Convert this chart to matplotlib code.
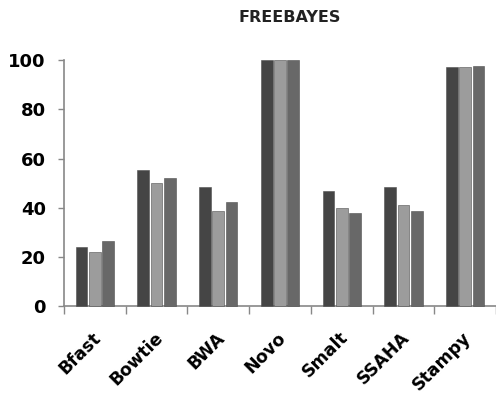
import numpy as np
import matplotlib.pyplot as plt
from matplotlib.transforms import ScaledTranslation

# data
tools = ["Bfast", "Bowtie", "BWA", "Novo", "Smalt", "SSAHA", "Stampy"]
series_a = [24.2, 55.3, 48.4, 100, 46.8, 48.4, 97.4]
series_b = [22.1, 50.0, 38.9, 100, 39.8, 41.1, 97.3]
series_c = [26.5, 52.2, 42.3, 100, 37.8, 38.9, 97.8]

colors = ["#454545", "#9c9c9c", "#686868"]

fig = plt.figure(figsize=(4.96, 3.98), dpi=100)
ax = fig.add_axes([0.129, 0.23, 0.871, 0.619])

x = np.arange(len(tools))
w = 0.19
step = 0.215
for k, (vals, c) in enumerate(zip([series_a, series_b, series_c], colors)):
    ax.bar(x + (k - 1) * step, vals, width=w, color=c, edgecolor="#505050",
           linewidth=0.4, clip_on=False, zorder=3)

ax.set_xlim(-0.5, len(tools) - 0.5)
ax.set_ylim(0, 100)
ax.set_yticks([0, 20, 40, 60, 80, 100])

# x ticks sit between categories, names drawn as rotated texts
ax.set_xticks(np.arange(-0.5, len(tools), 1.0))
ax.set_xticklabels([])
ax.tick_params(axis="x", length=6, width=1, color="#888888", direction="out")
shift = ax.get_xaxis_transform() + ScaledTranslation(-0.03, -0.22, fig.dpi_scale_trans)
for xi, name in zip(x, tools):
    ax.text(xi, 0, name, transform=shift, rotation=45, ha="right", va="top",
            rotation_mode="anchor", fontsize=12.5, fontweight="bold",
            family="DejaVu Sans")

ax.tick_params(axis="y", length=4, width=1, color="#888888", pad=9,
               labelsize=13)
for lab in ax.get_yticklabels():
    lab.set_fontweight("bold")
    lab.set_family("DejaVu Sans")

for side in ["top", "right"]:
    ax.spines[side].set_visible(False)
for side in ["left", "bottom"]:
    ax.spines[side].set_color("#888888")
    ax.spines[side].set_linewidth(1.2)

fig.text(0.585, 0.955, "FREEBAYES", ha="center", va="center", fontsize=11.5,
         fontweight="bold", color="#222222", family="DejaVu Sans")

fig.savefig("out.png", dpi=100)
